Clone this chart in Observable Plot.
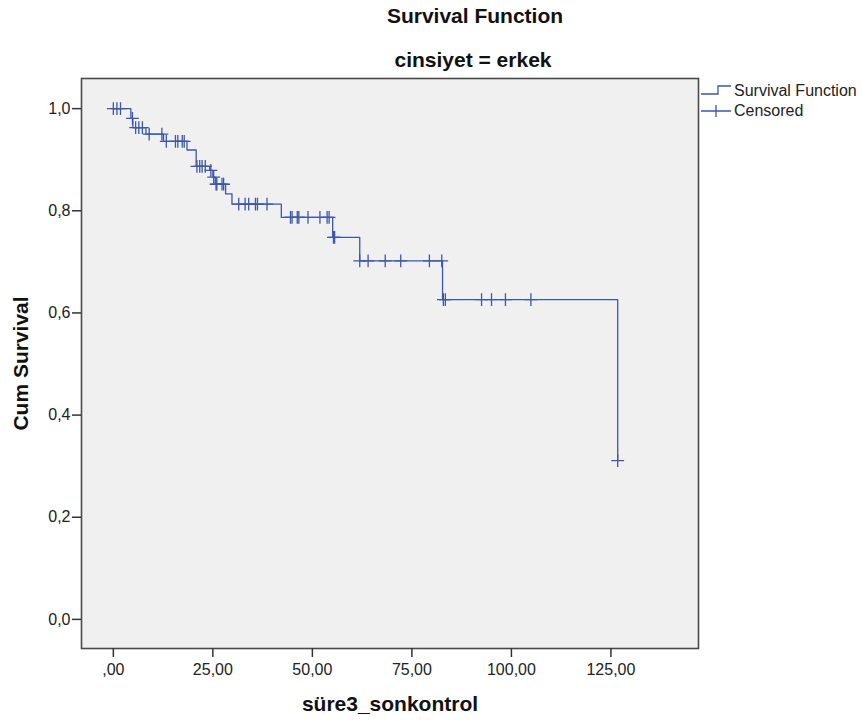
<!DOCTYPE html>
<html>
<head>
<meta charset="utf-8">
<script src="https://cdn.jsdelivr.net/npm/d3@7"></script>
<script src="https://cdn.jsdelivr.net/npm/@observablehq/plot@0.6"></script>
<style>
  body { margin: 0; background: #fff; font-family: "Liberation Sans", Arial, sans-serif; }
  #wrap { position: relative; width: 862px; height: 724px; overflow: hidden; }
  .ttl { position: absolute; transform: translateX(-50%); font-weight: bold; font-size: 21px; line-height: 24px; color: #111; white-space: nowrap; }
  .leg { position: absolute; left: 700px; font-size: 16px; line-height: 18px; color: #222; display: flex; align-items: center; white-space: nowrap; }
  .leg svg { margin-right: 2px; }
  #chart svg g[aria-label="y-axis label"] text,
  #chart svg g[aria-label="x-axis label"] text { font-weight: bold; font-size: 21px; fill: #111; }
</style>
</head>
<body>
<div id="wrap">
  <div id="chart"></div>
  <div class="ttl" style="left:475px; top:4px;">Survival Function</div>
  <div class="ttl" style="left:473px; top:48px;">cinsiyet = erkek</div>
  <div class="leg" style="top:82px;">
    <svg width="32" height="18"><path d="M1,12 H18 V4 H31" fill="none" stroke="#3c57ab" stroke-width="1.3"/></svg>Survival Function
  </div>
  <div class="leg" style="top:102px;">
    <svg width="32" height="18"><path d="M1,9 H31 M16,3 V15" fill="none" stroke="#3c57ab" stroke-width="1.3"/></svg>Censored
  </div>
</div>
<script>
// Step function (event times and survival after each event)
const stepTimes = [0, 4.4, 4.9, 8.2, 12.6, 18.5, 20.8, 24.2, 25.0, 25.6, 28.2, 29.8, 42.2, 55.1, 61.9, 82.7, 126.7];
const stepSurv  = [1.0, 0.981, 0.963, 0.950, 0.936, 0.919, 0.887, 0.879, 0.866, 0.852, 0.833, 0.813, 0.787, 0.748, 0.702, 0.626, 0.311];

// Censored observation times
const censTimes = [0, 0.9, 1.8, 4.8, 5.6, 6.4, 7.3, 9.0, 12.2, 13.3, 15.6, 16.2, 17.3, 17.8,
  21.0, 21.7, 22.3, 23.1, 24.5, 25.2, 25.8, 26.0, 27.3, 27.7, 31.5, 33.1, 34.0, 35.7, 36.2, 38.6,
  44.5, 44.9, 46.2, 46.6, 48.9, 51.9, 53.7, 54.2, 55.3, 55.6, 61.9, 64.0, 68.3, 72.2, 79.4, 82.5,
  82.9, 83.4, 92.5, 95.0, 98.5, 104.9, 126.7];

const xTicks = [0, 25, 50, 75, 100, 125];
const xTickLabels = [",00", "25,00", "50,00", "75,00", "100,00", "125,00"];
const yTicks = [0, 0.2, 0.4, 0.6, 0.8, 1.0];
const yTickLabels = ["0,0", "0,2", "0,4", "0,6", "0,8", "1,0"];

const steps = stepTimes.map((t, i) => ({t, s: stepSurv[i]}));
function survAt(t) {
  let s = stepSurv[0];
  for (let i = 0; i < stepTimes.length; i++) if (stepTimes[i] <= t) s = stepSurv[i];
  return s;
}
const cens = censTimes.map(t => ({t, s: survAt(t)}));

const color = "#3c57ab";
const chart = Plot.plot({
  width: 862,
  height: 724,
  marginLeft: 81,
  marginRight: 164,
  marginTop: 78,
  marginBottom: 76,
  style: {fontFamily: "'Liberation Sans', Arial, sans-serif", fontSize: "16px", color: "#222", background: "#fff"},
  x: {domain: [-8, 147], label: null},
  y: {domain: [-0.057, 1.059], label: null},
  marks: [
    Plot.frame({fill: "#f0f0f0", stroke: null}),
    Plot.line(steps, {x: "t", y: "s", curve: "step-after", stroke: color, strokeWidth: 1.3}),
    Plot.dot(cens, {x: "t", y: "s", symbol: "plus", r: 4.2, stroke: color, strokeWidth: 1.3}),
    Plot.frame({stroke: "#4a4a4a", strokeWidth: 1.6}),
    Plot.axisX({ticks: xTicks, tickFormat: d => xTickLabels[xTicks.indexOf(d)], tickSize: 9, tickPadding: 6,
      stroke: "#333", strokeWidth: 1.5, label: "süre3_sonkontrol", labelAnchor: "center", labelArrow: "none", labelOffset: 62}),
    Plot.axisY({ticks: yTicks, tickFormat: d => yTickLabels[yTicks.findIndex(v => Math.abs(v - d) < 1e-9)], tickSize: 9, tickPadding: 2,
      stroke: "#333", strokeWidth: 1.5, label: "Cum Survival", labelAnchor: "center", labelArrow: "none", labelOffset: 68})
  ]
});
document.getElementById("chart").appendChild(chart);
</script>
</body>
</html>
